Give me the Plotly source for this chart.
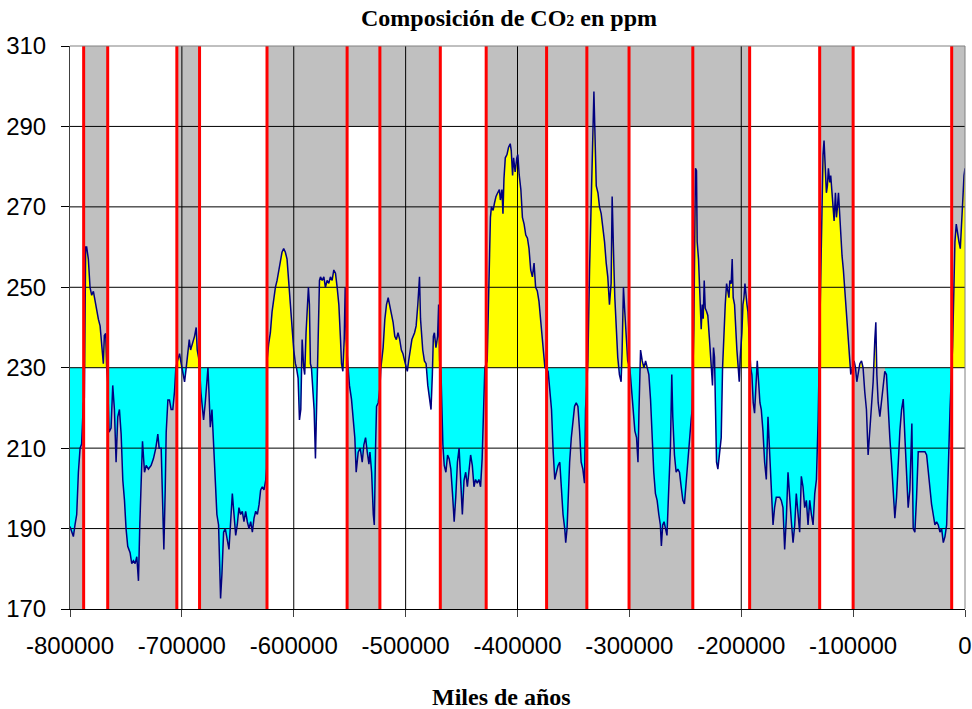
import numpy as np
import plotly.graph_objects as go

# ---------------- data ----------------
AGE = [-800000,-798500,-797000,-795500,-794000,-792500,-791000,-789600,-788100,-787200,-786600,-786000,-785100,-783600,-782100,-780600,-779100,-777600,-776100,-774600,-773100,-771600,-770200,-769300,-768100,-767200,-766300,
-765100,-763300,-761800,-760300,-758800,-757300,-755800,-754300,-752800,-751300,-749900,-748400,-746300,-744800,-743300,-741800,-740300,-738800,-737600,-736400,-735200,-733400,-731900,-729900,-727500,-725400,-723300,-721500,-720300,-718500,-717000,-716100,-714900,-714000,-712500,-711100,-709600,-708100,-706600,-705400,
-703900,-702100,-700600,-699100,-697600,-696100,-694600,-693400,-692200,-690500,-688700,-687200,-686300,-685100,-684200,
-683000,-681500,-680600,-679100,-677900,-676700,-675800,-674600,-673100,-671600,-670200,-668700,-667200,-666300,-665400,-664200,-662700,-661200,-659400,-657900,-656400,-654900,-653400,-651900,-650500,-649000,-647500,-646000,-644500,-643000,-641500,-640000,-638500,-637000,-635500,-634000,-632500,-631000,-629600,-628100,-626600,-625100,-624400,
-623800,-622400,-620900,-619400,-617900,-616400,-614900,-613400,-611900,-610500,-609000,-607500,-606000,-604500,-603000,-601500,-600000,-598500,-597600,-596100,-594900,-593700,-592500,-591100,-590200,-589000,-587800,-586900,-586000,-585100,-584200,-583000,-581800,-580600,-579400,-578200,-577000,-576100,-574600,-573100,-571700,-570200,-568700,-567200,-565700,-564200,-562700,-561200,-559700,-558200,-557300,-556100,-554900,-554000,-553100,
-551400,-550200,-548400,-546900,-545400,-544200,-542400,-540600,-538800,-537300,-535800,-534300,-532800,-531900,-530400,-528900,-528000,-526800,-526000,-524500,-523000,
-522100,-521500,-520100,-518600,-517100,-515600,-514200,-512700,-511200,-509700,-508300,-506800,-505300,-503800,-502400,-500900,-499400,-498500,-497300,-495900,-494400,-492000,-490600,-489100,-487600,-486700,-485500,-484700,-483200,-481700,-480200,-478800,-477300,-476100,-475200,-474300,-472900,-471400,-470500,-469600,
-468400,-466700,-465500,-464000,-462500,-461100,-459600,-458100,-456600,-455200,-453700,-452200,-450700,-449300,-447800,-446300,-444800,-443400,-441900,-440400,-438900,-437500,-436000,-434500,-433000,-431600,-430100,-429200,
-427100,-425700,-424200,-423300,-421800,-420600,-419200,-417700,-416200,-415300,-413900,-413000,-412100,-410900,-409400,-408000,-406500,-405600,-404400,-403500,-402100,-400600,-399700,-398500,-397000,-395600,-394100,-392600,-391100,-389700,-388200,-386700,-385200,-383800,-382300,-380800,-379300,-377900,-376400,-375500,
-372600,-371100,-369600,-368100,-366700,-365200,-363700,-362200,-360800,-359300,-357800,-356900,-355700,-354900,-353400,-351900,-350400,-349000,-347500,-346000,-344500,-343100,-341600,-340100,-339200,
-337100,-335600,-334100,-332600,-331700,-330800,-329600,-328100,-326700,-325200,-323700,-322200,-320700,-319300,-317800,-316300,-315400,-314800,-313900,-313000,-311800,-310400,-308900,-307400,-306500,-305300,-304100,-302900,-301500,
-299600,-298100,-296600,-295100,-293600,-292300,-291400,-290000,-288500,-287000,-285500,-284100,-282600,-281100,-279600,-278200,-276700,-275200,-273700,-272300,-271400,-270200,-269000,-267800,-266400,
-264800,-263300,-262100,-261200,-259700,-258200,-256700,-255200,-253700,-252200,-250800,-249300,-247800,-246300,-244800,-243900,
-242400,-241800,-240900,-240000,-239400,-238200,-237300,-236400,-235800,-234900,-234000,-233100,-232200,-231000,-229900,-228400,-227500,-226600,-225700,-224800,-223900,-223000,-222100,-220900,-219400,-217900,-216700,-215500,-214300,-213100,-211900,-211000,-210200,-209000,-208100,-207200,-206000,-205100,-203900,-202700,-201800,-200900,-199400,-198500,-197600,-196700,-195800,-194900,-194000,
-191600,-190500,-189300,-188100,-186900,-185700,-184500,-183300,-182100,-180600,-179100,-177600,-176100,-174600,-173100,-171600,-170200,-168700,-167200,-165700,-164200,-162700,-161200,-159700,-158200,-156700,-155200,-153700,-152200,-150800,-149300,-147800,-146300,-144800,-143300,-141800,-140300,-138800,-137300,-135800,-134300,-132800,-131300,
-129000,-127800,-126900,-126000,-124800,-123900,-123000,-122100,-120900,-120000,-119100,-117900,-117000,-115800,-114900,-114000,-113100,-112200,-111100,-109900,-108700,-107500,-106000,-104500,-103000,-102100,
-99100,-97900,-96700,-95500,-94000,-92500,-91100,-89600,-88100,-86600,-85100,-83600,-82100,-80600,-79700,-78800,-77600,-76100,-74600,-73100,-71700,-70200,-68700,-67200,-65700,-64200,-62700,-61200,-59700,-58200,-56700,-55200,-53700,-52200,-50800,-49300,-48400,-47500,-46300,-44800,-43300,-41800,-40300,-38800,-37300,-35800,-34300,-32800,-31300,-29900,-28400,-26900,-25400,-23900,-22400,-20900,-19400,-17900,-16400,-15500,-14300,-13400,
-11100,-9900,-9000,-7800,-6600,-5400,-4200,-3000,-1800,-900,0]

CO2 = [190.5,189,188,191,193.5,204,210,211,221,222.5,252,260,260,257,250,248,249,246.5,244.8,242,240.4,235,231,238,238.5,230,226.5,
214,215,225.6,219.6,206.5,217.8,219.6,213.5,202,197,190,185.6,184,181.3,182,181.3,183,177,191,202,211.7,204,205.7,204.8,205.7,207.4,210,213.5,210,210,189,184.8,199.6,214,222,222,219.6,219.6,224,230,
231.7,233.5,231,228.3,226.5,230,235,237,234.4,236,237.8,240,234.4,232.6,230,
224,219.6,217,221.3,226.5,230,224,215.2,219.6,210,200.4,193.5,190.9,180.4,172.6,178.7,189.1,190,187.4,184.8,191.7,198.7,193.5,188.3,190.9,195.2,193.5,194.3,191.7,194.3,191.7,190,191.7,189.1,192.6,194.3,193.5,196,199.6,200.4,199.6,202,205,
232,236,238.7,243.9,247.4,250,251.7,254.3,256,258.7,259.6,258.7,257,250.9,243.9,237.8,234.4,231,230,227.4,217,219.6,237,230,228.3,238.7,245.7,250,245.7,231,230,224,219.6,207.4,222.2,240.4,251.7,252.6,251.7,252.6,250,251.7,251,252.6,251.7,254.3,253.5,250,245.7,237,231,229.1,237,250,237,
230,225.6,222.2,217.8,212.6,204,209,210,206.5,210.9,212.6,209,206,209,204,193.5,190.9,210.9,220.4,221.3,225,
230,231.7,235,242,245.7,247.4,245.7,243.9,241.3,237.8,237,238.7,237,234.4,233.5,231.7,230,229.1,231.7,235,237,238.7,240.4,245.7,252.6,242.2,238,234.4,231.7,231,225.6,222.2,219.6,228.3,237.8,238.7,235,237.8,245.7,231.7,
229,210.9,205.7,204,208.3,207.4,204.8,198.7,191.7,197.8,206.5,210,200.4,193.5,202,204,200.4,204.8,208.3,205.7,200.4,202.2,201.3,202.2,200.4,207.4,219.6,230,
231.7,250,267.4,270,269.1,270.9,272.6,273.5,274.3,271.7,274.3,268.3,277,282.2,283,284.8,285.7,284,277.8,282.2,278.7,282.2,283,278,274.3,267.4,265.7,263,262.2,259.6,254.3,252.6,256,250,249.1,246.5,242.2,238.7,233.5,230,
229.1,224.8,219.6,209.1,202.2,204,205.7,206.5,198.7,193.5,190,186.5,190,197,206.5,212.6,216.1,220.4,221.3,220.4,214.3,206.5,204.8,201.3,219.6,
231.7,254.3,275.2,288.3,298.7,285.7,275.2,273.5,270,268.3,264.8,261.3,256,252.6,245.7,251,272.6,263,256,247.4,238.7,232.6,228.3,226.5,234,250,243.9,237.8,231.7,
230,224.8,219.6,214.3,212.6,206.5,219.6,234.4,231.7,230,231.7,230,228.3,222.2,212.6,204,198.7,197,193.5,190.9,185.7,190.9,191.7,190,188.3,
200,210.3,228.3,217.8,208.3,204,204.8,204,200.4,197,196.1,202.2,206.5,211.7,217,219.6,
239.6,258.7,279.6,279,261.3,257,250.9,245.7,239.6,245.7,242.2,251.7,244.8,244,243,237,233.5,230,225.6,235,232.6,219.6,206.5,204.8,208.9,212.6,230,238.7,245.7,250.9,249.1,247.4,251.7,250.9,257,247.4,245.7,238.7,234.4,230,226.5,232.6,238.7,245.7,247.4,250.9,247.4,245.7,243.9,
230,228.3,221.3,218.7,226.5,231.7,226.5,221.3,219.6,214.3,206.5,202.2,217.8,209.1,198.7,190.9,195.2,197.8,197.8,197.8,197,195.2,184.8,192.6,204,197,191.7,186.5,190.9,198.7,192.6,189.1,203,200.4,195.2,197,190.9,197,193.5,190.9,198.7,202.2,217,
252.6,263,283,286.5,277.8,273.5,275.2,279.6,276.1,277.8,274.3,270,266.5,273.5,267.4,270,273.5,269.1,263,257.8,254.3,250,243.9,237,232.6,228.3,
231.7,230,226.5,228.3,231,231.7,230,224,219.6,208.3,215.2,222.2,226.5,237,241.3,228.3,221.3,217.8,222.2,226.5,229.1,228.3,219.6,212.6,206.5,197.8,192.6,197.8,206.5,214.3,219.6,222.2,212.6,202.2,195.2,199.6,209.1,216.1,190,189.1,197.8,209.1,209.1,209.1,209.1,209.1,208.3,204,199.6,196.1,193.5,190.9,191.7,190.9,189.1,190,186.5,188,190.9,197.8,210.9,219.6,
235.2,250,261.3,265.7,263,261.3,259.6,268.3,272.6,277.8,279.6]

# glacial / interglacial boundaries (red lines), years
BOUNDARIES = [-787800, -766300, -704500, -684200, -623900, -552300, -523000, -469000,
              -428000, -374000, -338000, -300300, -243300, -192500, -129900, -100000, -11900]
THRESHOLD = 230                     # ppm reference level
CYAN_GAP = (-100000, -70800)        # stretch drawn without cyan fill
TOP_BAND_SEGMENTS = [6, 10, 12]     # glacial segments with shaded top band
TOP_BAND_FROM = 290

X_TICKS = list(range(-800000, 1, 100000))
X_LABELS = [str(v) for v in X_TICKS]
Y_TICKS = list(range(170, 311, 20))
X_RANGE = [-800000, 0]
Y_RANGE = [170, 310]

# ---------------- helpers ----------------
x = np.array(AGE, dtype=float)
y = np.array(CO2, dtype=float)
order = np.argsort(x, kind="stable")
x, y = x[order], y[order]


def insert_crossings(xs, ys, level):
    ox, oy = [xs[0]], [ys[0]]
    for i in range(1, len(xs)):
        y0, y1 = ys[i - 1], ys[i]
        if (y0 - level) * (y1 - level) < 0:
            t = (level - y0) / (y1 - y0)
            ox.append(xs[i - 1] + t * (xs[i] - xs[i - 1]))
            oy.append(level)
        ox.append(xs[i]); oy.append(ys[i])
    return np.array(ox), np.array(oy)


def insert_x(xs, ys, xv):
    if xv in xs:
        return xs, ys
    yv = np.interp(xv, xs, ys)
    k = np.searchsorted(xs, xv)
    return np.insert(xs, k, xv), np.insert(ys, k, yv)


xc, yc = insert_crossings(x, y, THRESHOLD)
for g in CYAN_GAP:
    xc, yc = insert_x(xc, yc, g)

# yellow polygon (above threshold)
yy = np.maximum(yc, THRESHOLD)
poly_yx = list(xc) + [X_RANGE[1], X_RANGE[0]]
poly_yy = list(yy) + [THRESHOLD, THRESHOLD]

# cyan polygon (below threshold)
ycy = np.minimum(yc, THRESHOLD)
mask = (xc > CYAN_GAP[0]) & (xc < CYAN_GAP[1])
ycy[mask] = THRESHOLD
poly_cx = list(xc) + [X_RANGE[1], X_RANGE[0]]
poly_cy = list(ycy) + [THRESHOLD, THRESHOLD]

# gray background polygons
edges = [X_RANGE[0]] + BOUNDARIES + [X_RANGE[1]]
gx, gy = [], []


def add_rect(x0, x1, y0, y1):
    gx.extend([x0, x1, x1, x0, x0, None])
    gy.extend([y0, y0, y1, y1, y0, None])


for i in range(len(edges) - 1):
    x0, x1 = edges[i], edges[i + 1]
    if i % 2 == 0:   # glacial
        add_rect(x0, x1, Y_RANGE[0], THRESHOLD)
        if i in TOP_BAND_SEGMENTS:
            add_rect(x0, x1, TOP_BAND_FROM, Y_RANGE[1])
    else:            # interglacial
        add_rect(x0, x1, THRESHOLD, Y_RANGE[1])

# grid lines
grid_x, grid_y = [], []
for v in Y_TICKS[1:-1]:
    grid_x += [X_RANGE[0], X_RANGE[1], None]
    grid_y += [v, v, None]
for v in X_TICKS[1:-1]:
    grid_x += [v, v, None]
    grid_y += [Y_RANGE[0], Y_RANGE[1], None]

# red lines
rx, ry = [], []
for b in BOUNDARIES:
    rx += [b, b, None]
    ry += [Y_RANGE[0], Y_RANGE[1], None]

fig = go.Figure()
fig.add_trace(go.Scatter(x=gx, y=gy, fill="toself", fillcolor="#C0C0C0",
                         mode="none", hoverinfo="skip", showlegend=False))
fig.add_trace(go.Scatter(x=poly_yx, y=poly_yy, fill="toself", fillcolor="#FFFF00",
                         mode="none", hoverinfo="skip", showlegend=False))
fig.add_trace(go.Scatter(x=poly_cx, y=poly_cy, fill="toself", fillcolor="#00FFFF",
                         mode="none", hoverinfo="skip", showlegend=False))
fig.add_trace(go.Scatter(x=grid_x, y=grid_y, mode="lines",
                         line=dict(color="black", width=1),
                         hoverinfo="skip", showlegend=False))
fig.add_trace(go.Scatter(x=x, y=y, mode="lines",
                         line=dict(color="#000080", width=1.5),
                         name="CO2", showlegend=False))
fig.add_trace(go.Scatter(x=rx, y=ry, mode="lines",
                         line=dict(color="#FF0000", width=3),
                         hoverinfo="skip", showlegend=False))

L, R, T, B = 70, 7, 46, 100
W, H = 972, 709
pw, ph = W - L - R, H - T - B

fig.update_layout(
    width=W, height=H,
    margin=dict(l=L, r=R, t=T, b=B, pad=0, autoexpand=False),
    paper_bgcolor="white", plot_bgcolor="white",
    showlegend=False,
    xaxis=dict(range=X_RANGE, tickvals=X_TICKS, ticktext=X_LABELS,
               automargin=False,
               showgrid=False, zeroline=False, showline=True,
               linecolor="black", linewidth=1,
               ticks="outside", ticklen=7, tickcolor="#404040",
               ticklabelstandoff=8,
               tickfont=dict(family="Liberation Sans, Arial", size=24, color="black")),
    yaxis=dict(range=Y_RANGE, tickvals=Y_TICKS,
               automargin=False,
               showgrid=False, zeroline=False, showline=True,
               linecolor="#404040", linewidth=1,
               ticks="outside", ticklen=8, tickcolor="black",
               ticklabelstandoff=10,
               tickfont=dict(family="Liberation Sans, Arial", size=24, color="black")),
    shapes=[
        dict(type="line", xref="paper", yref="paper", x0=0, x1=1, y0=1, y1=1,
             line=dict(color="#808080", width=1), layer="above"),
        dict(type="line", xref="paper", yref="paper", x0=1, x1=1, y0=0, y1=1,
             line=dict(color="#808080", width=1), layer="above"),
    ],
    annotations=[
        dict(text="<b>Composición de CO<span style='font-size:16px'>2</span> en ppm</b>",
             xref="paper", yref="paper", x=(509 - L) / pw, y=(H - B - 18) / ph,
             xanchor="center", yanchor="middle", showarrow=False,
             font=dict(family="Liberation Serif, Times New Roman", size=24, color="black")),
        dict(text="<b>Miles de años</b>",
             xref="paper", yref="paper", x=(501 - L) / pw, y=(H - B - 697) / ph,
             xanchor="center", yanchor="middle", showarrow=False,
             font=dict(family="Liberation Serif, Times New Roman", size=24, color="black")),
    ],
)

fig.write_html("out.html")
